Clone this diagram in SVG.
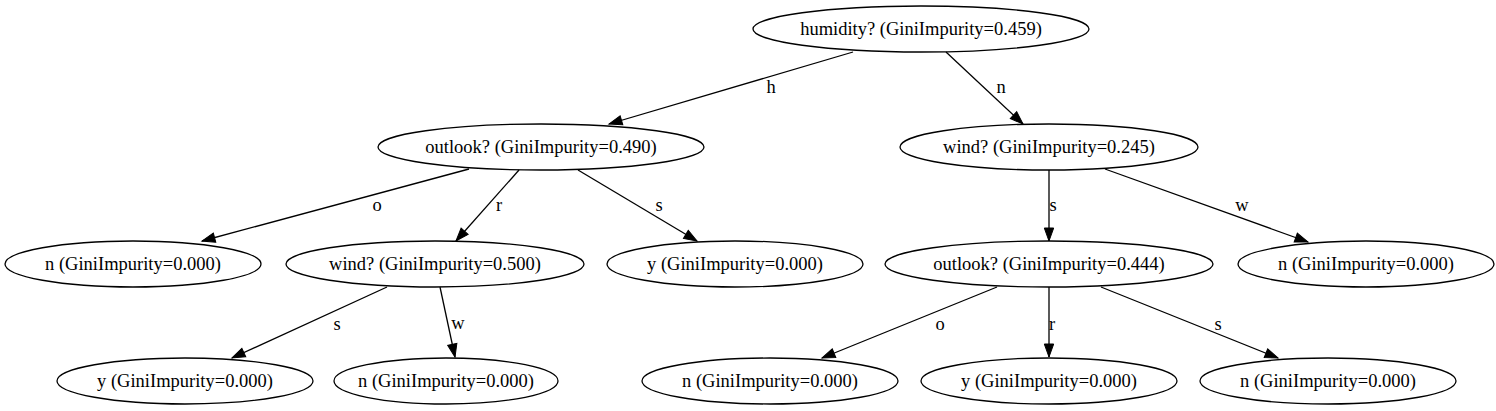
<svg xmlns="http://www.w3.org/2000/svg" width="1496" height="411" viewBox="0 0 1496 411">
<style>
.n ellipse{fill:none;stroke:#000;stroke-width:1.3}
text{font-family:"Liberation Serif","Times New Roman",serif;font-size:18.5px;fill:#000;text-anchor:middle}
.e line{stroke:#000;stroke-width:1.3;marker-end:url(#arr)}
</style>
<defs>
<marker id="arr" markerUnits="userSpaceOnUse" markerWidth="13" markerHeight="9.4" refX="13" refY="4.7" orient="auto" overflow="visible">
<path d="M0,0 L13,4.7 L0,9.4 z" fill="#000" stroke="#000" stroke-width="1"/>
</marker>
</defs>
<rect width="1496" height="411" fill="#fff"/>
<g id="edges" class="e">
<line x1="853" y1="52" x2="609" y2="124"/>
<line x1="946" y1="52" x2="1023" y2="124"/>
<line x1="469" y1="169" x2="202" y2="241"/>
<line x1="519" y1="170" x2="456" y2="241"/>
<line x1="578" y1="170" x2="697" y2="241"/>
<line x1="387" y1="287" x2="232" y2="358"/>
<line x1="440" y1="287" x2="455" y2="357"/>
<line x1="1049" y1="170" x2="1049" y2="241"/>
<line x1="1105" y1="169" x2="1308" y2="242"/>
<line x1="997" y1="287" x2="822" y2="358"/>
<line x1="1049" y1="287" x2="1049" y2="357"/>
<line x1="1101" y1="287" x2="1278" y2="358"/>
</g>
<g id="edge-labels">
<text x="771" y="93">h</text>
<text x="1001" y="93">n</text>
<text x="377" y="211">o</text>
<text x="499" y="211">r</text>
<text x="659" y="211">s</text>
<text x="337" y="330">s</text>
<text x="458" y="329">w</text>
<text x="1053" y="211">s</text>
<text x="1242" y="211">w</text>
<text x="940" y="330">o</text>
<text x="1052" y="330">r</text>
<text x="1218" y="330">s</text>
</g>
<g id="n0" class="n"><ellipse cx="921" cy="29" rx="168" ry="23"/><text x="921" y="35">humidity? (GiniImpurity=0.459)</text></g>
<g id="n1" class="n"><ellipse cx="541" cy="147" rx="163" ry="23"/><text x="541" y="153">outlook? (GiniImpurity=0.490)</text></g>
<g id="n2" class="n"><ellipse cx="1049" cy="147" rx="149" ry="23"/><text x="1049" y="153">wind? (GiniImpurity=0.245)</text></g>
<g id="n3" class="n"><ellipse cx="133" cy="264" rx="128" ry="23"/><text x="133" y="270">n (GiniImpurity=0.000)</text></g>
<g id="n4" class="n"><ellipse cx="435" cy="264" rx="149" ry="23"/><text x="435" y="270">wind? (GiniImpurity=0.500)</text></g>
<g id="n5" class="n"><ellipse cx="735" cy="264" rx="128" ry="23"/><text x="735" y="270">y (GiniImpurity=0.000)</text></g>
<g id="n6" class="n"><ellipse cx="1049" cy="264" rx="164" ry="23"/><text x="1049" y="270">outlook? (GiniImpurity=0.444)</text></g>
<g id="n7" class="n"><ellipse cx="1366" cy="264" rx="128" ry="23"/><text x="1366" y="270">n (GiniImpurity=0.000)</text></g>
<g id="n8" class="n"><ellipse cx="185" cy="381" rx="128" ry="23"/><text x="185" y="387">y (GiniImpurity=0.000)</text></g>
<g id="n9" class="n"><ellipse cx="446" cy="381" rx="112" ry="23"/><text x="446" y="387">n (GiniImpurity=0.000)</text></g>
<g id="n10" class="n"><ellipse cx="770" cy="381" rx="128" ry="23"/><text x="770" y="387">n (GiniImpurity=0.000)</text></g>
<g id="n11" class="n"><ellipse cx="1049" cy="381" rx="128" ry="23"/><text x="1049" y="387">y (GiniImpurity=0.000)</text></g>
<g id="n12" class="n"><ellipse cx="1328" cy="381" rx="128" ry="23"/><text x="1328" y="387">n (GiniImpurity=0.000)</text></g>
</svg>
